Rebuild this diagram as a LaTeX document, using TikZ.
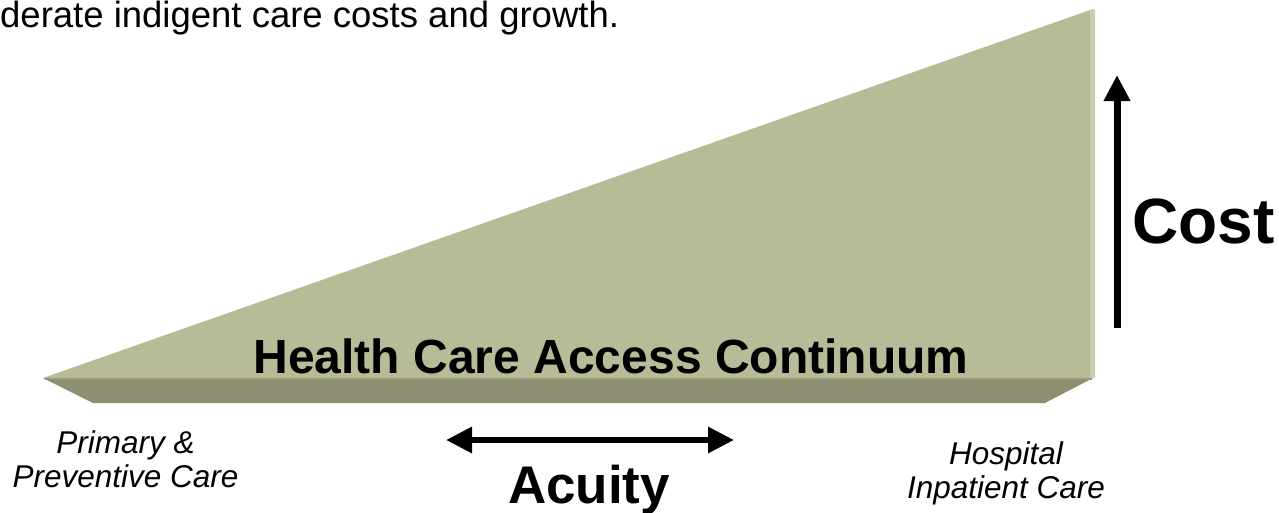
\documentclass[tikz,border=0pt]{standalone}
\usepackage{fontspec}
\setmainfont{Liberation Sans}
\usetikzlibrary{arrows.meta,positioning}

\definecolor{wedgetop}{HTML}{B8BB97}
\definecolor{wedgeside}{HTML}{8E8F71}
\definecolor{wedgeedge}{HTML}{CBCDAE}

\begin{document}
\begin{tikzpicture}[x=1pt, y=-1pt,
  lbl/.style={inner sep=0pt, font=\bfseries},
  end/.style={inner sep=0pt, align=center, font=\itshape\fontsize{31.5}{34}\selectfont},
  bigarrow/.style={line width=7pt, -{Triangle[width=25pt,length=26pt]}}]
  \useasboundingbox (0,0) rectangle (1279,512);

  % wedge: slanted face plus bevelled base
  \fill[wedgeside] (43,378) -- (93,403) -- (1045,403) -- (1093,378) -- cycle;
  \fill[wedgetop] (43,378) -- (1093,9) -- (1093,378) -- cycle;
  \fill[wedgeedge] (1090,10) -- (1093,9) -- (1095,10) -- (1095,378) -- (1090,378) -- cycle;
  \draw[wedgeside!80!wedgetop, line width=1.5pt] (45,379) -- (1092,379);

  % text left over from the slide line above
  \node[inner sep=0pt, anchor=base west, font=\fontsize{36.5}{40}\selectfont]
       (intro) at (0,27) {derate indigent care costs and growth.};

  \node[lbl, anchor=base, font=\bfseries\fontsize{48}{50}\selectfont]
       (continuum) at (611,373) {Health Care Access Continuum};

  % cost axis
  \coordinate (costlo) at (1117,328);
  \coordinate (costhi) at (1117,75);
  \draw[bigarrow] (costlo) -- (costhi);
  \node[lbl, anchor=base west, font=\bfseries\fontsize{64}{66}\selectfont]
       (cost) at (1132,243) {Cost};

  % acuity axis
  \coordinate (acuL) at (446,440);
  \coordinate (acuR) at (734,440);
  \draw[line width=6pt, {Triangle[width=25pt,length=26pt]}-{Triangle[width=25pt,length=26pt]}]
       (acuL) -- (acuR);
  \node[lbl, anchor=base, font=\bfseries\fontsize{53}{56}\selectfont]
       (acuity) at (589,503) {Acuity};

  % ends of the continuum (base = last line)
  \node[end, anchor=base] (primary) at (125.5,487) {Primary \&\\Preventive Care};
  \node[end, anchor=base] (hospital) at (1006,498) {Hospital\\Inpatient Care};
\end{tikzpicture}
\end{document}
